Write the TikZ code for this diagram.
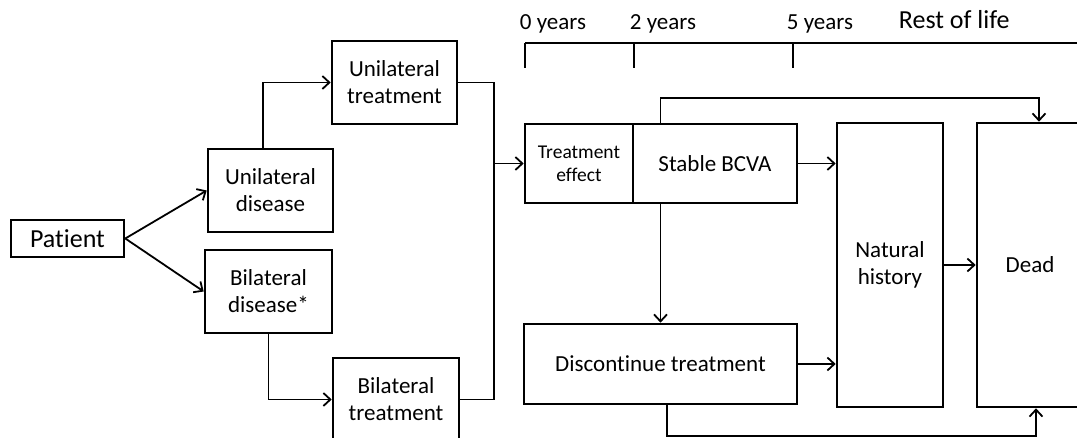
\documentclass[tikz,border=0pt]{standalone}
\usepackage{fontspec}
\setmainfont{Carlito}[Ligatures=NoCommon]
\usetikzlibrary{arrows.meta}

\begin{document}
\begin{tikzpicture}[x=1pt,y=-1pt,->,>={Straight Barb[length=7pt,width=13pt]},line width=1.8pt,
    box node/.style={rectangle,draw,line width=2.6pt,align=center,inner sep=0pt,
                     font=\fontsize{23}{27}\selectfont},
    year node/.style={anchor=base west,inner sep=0pt,font=\fontsize{23}{27}\selectfont}]
  \useasboundingbox (0,0) rectangle (1077,438);
  \clip (0,0) rectangle (1077,438);

  \node[box node,minimum width=113pt,minimum height=37pt,font=\fontsize{26}{30}\selectfont] (patient) at (67.5,238.5) {Patient};
  \node[box node,minimum width=125pt,minimum height=83pt] (unidis) at (270.5,190.5) {Unilateral\\disease};
  \node[box node,minimum width=127pt,minimum height=83pt] (bidis) at (268.5,291.5) {Bilateral\\disease*};
  \node[box node,minimum width=125pt,minimum height=83pt] (unitreat) at (394.5,82.5) {Unilateral\\treatment};
  \node[box node,minimum width=126pt,minimum height=83pt] (bitreat) at (396,399.5) {Bilateral\\treatment};
  \node[box node,minimum width=108pt,minimum height=79pt,font=\fontsize{19.5}{23}\selectfont] (effect) at (579,163.5) {Treatment\\effect};
  \node[box node,minimum width=164pt,minimum height=79pt] (stable) at (715,163.5) {Stable BCVA};
  \node[box node,minimum width=273pt,minimum height=80pt] (discont) at (660.5,364) {Discontinue treatment};
  \node[box node,minimum width=106pt,minimum height=284pt] (natural) at (890,265) {Natural\\history};
  \node[box node,minimum width=106pt,minimum height=284pt] (dead) at (1030,265) {Dead};

  % time line
  \coordinate (t0) at (525,43);
  \coordinate (t2) at (634,43);
  \coordinate (t5) at (793,43);
  \coordinate (tend) at (1080,43);
  \draw[-] (t0) -- (tend);
  \foreach \t in {t0,t2,t5}
    \draw[-] (\t) -- ++(0,25);
  \node[year node] (yr0) at (519,30) {0 years};
  \node[year node] (yr2) at (629,30) {2 years};
  \node[year node] (yr5) at (786,30) {5 years};
  \node[year node,font=\fontsize{26}{30}\selectfont] (rest) at (898,29) {Rest of life};

  % patient paths
  \draw (patient.east) -- (unidis.west);
  \draw (patient.east) -- (bidis.west);
  \draw ([xshift=-7.5pt]unidis.north) |- (unitreat.west);
  \draw (bidis.south) |- (bitreat.west);
  \coordinate (join) at (494,163.5);
  \draw[-] (unitreat.east) -| (join);
  \draw[-] (bitreat.east) -| (join);
  \draw (join) -- (effect.west);

  % model states
  \draw (stable.east) -- (natural.west |- stable.east);
  \draw (discont.east) -- (natural.west |- discont.east);
  \draw (natural.east) -- (dead.west);
  \draw (stable.south -| discont.north) -- (discont.north);
  \coordinate (topturn) at (1039,98);
  \draw (stable.north -| discont.north) |- (topturn) -- (topturn |- dead.north);
  \coordinate (botturn) at (1036,436);
  \draw ([xshift=6.5pt]discont.south) |- (botturn) -- (botturn |- dead.south);
\end{tikzpicture}
\end{document}
